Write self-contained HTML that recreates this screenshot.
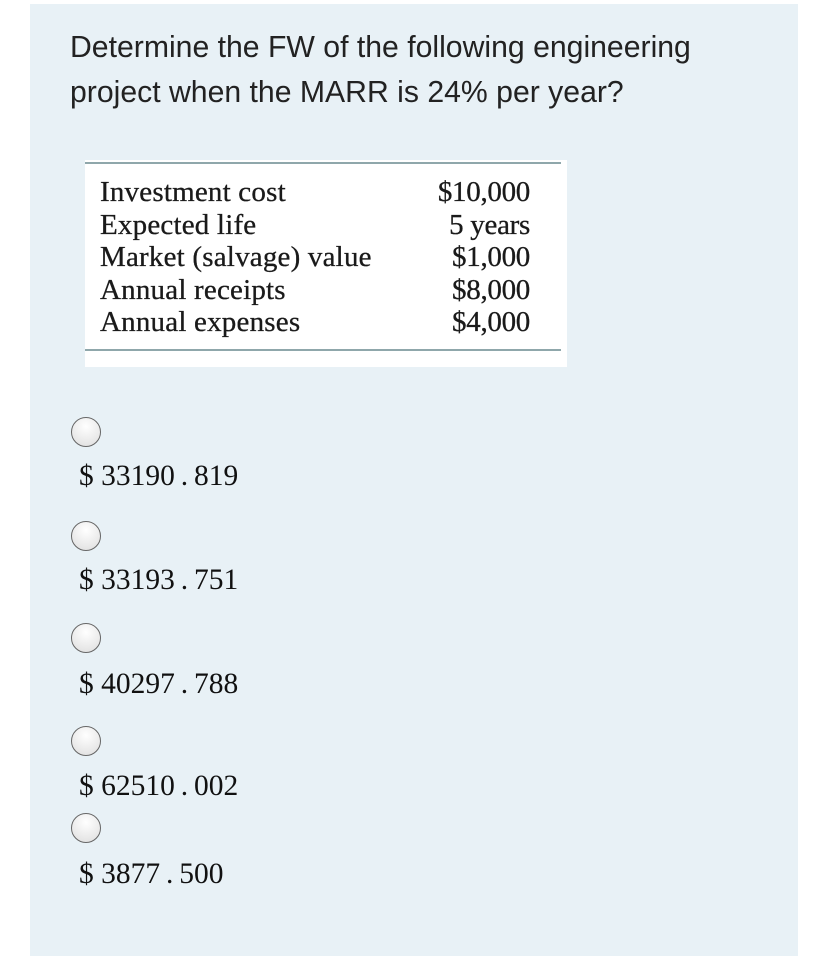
<!DOCTYPE html>
<html><head><meta charset="utf-8"><style>
body{margin:0;width:828px;height:960px;background:#fff;position:relative;overflow:hidden}
#panel{position:absolute;left:30px;top:4px;width:768px;height:952px;background:#e8f1f6}
.q{position:absolute;left:70px;font-family:"Liberation Sans",sans-serif;font-size:30.2px;color:#222;white-space:nowrap}
#tbl{position:absolute;left:85px;top:160px;width:482px;height:207px;background:#fff}
.ln{position:absolute;left:0;width:476px;height:2px;background:#8fa7ab}
.r{position:absolute;font-family:"Liberation Serif",serif;font-size:29px;letter-spacing:0.2px;color:#1a1a1a;white-space:nowrap;line-height:32.5px;-webkit-text-stroke:0.3px #1a1a1a}
.radio{position:absolute;left:71px;width:30px;height:30px;border-radius:50%;border:1.5px solid #666;background:radial-gradient(circle at 50% 30%,#fff,#ddd);box-sizing:border-box}
.opt{position:absolute;left:79px;font-family:"Liberation Serif",serif;font-size:29.5px;color:#111;white-space:nowrap}
</style></head><body>
<div id="panel"></div>
<div class="q" style="top:31px">Determine the FW of the following engineering</div>
<div class="q" style="top:76px">project when the MARR is 24% per year?</div>
<div id="tbl">
<div class="ln" style="top:2px"></div>
<div class="ln" style="top:189px"></div>
<div class="r" style="left:15px;top:16px">Investment cost<br>Expected life<br>Market (salvage) value<br>Annual receipts<br>Annual expenses</div>
<div class="r" style="right:37px;top:16px;text-align:right;letter-spacing:-0.3px">$10,000<br>5 years<br>$1,000<br>$8,000<br>$4,000</div>
</div>
<div class="radio" style="top:417px"></div>
<div class="opt" style="top:460px">$ 33190&#8201;.&#8201;819</div>
<div class="radio" style="top:521px"></div>
<div class="opt" style="top:564px">$ 33193&#8201;.&#8201;751</div>
<div class="radio" style="top:623px"></div>
<div class="opt" style="top:668px">$ 40297&#8201;.&#8201;788</div>
<div class="radio" style="top:726px"></div>
<div class="opt" style="top:770px">$ 62510&#8201;.&#8201;002</div>
<div class="radio" style="top:813px"></div>
<div class="opt" style="top:858px">$ 3877&#8201;.&#8201;500</div>
</body></html>
